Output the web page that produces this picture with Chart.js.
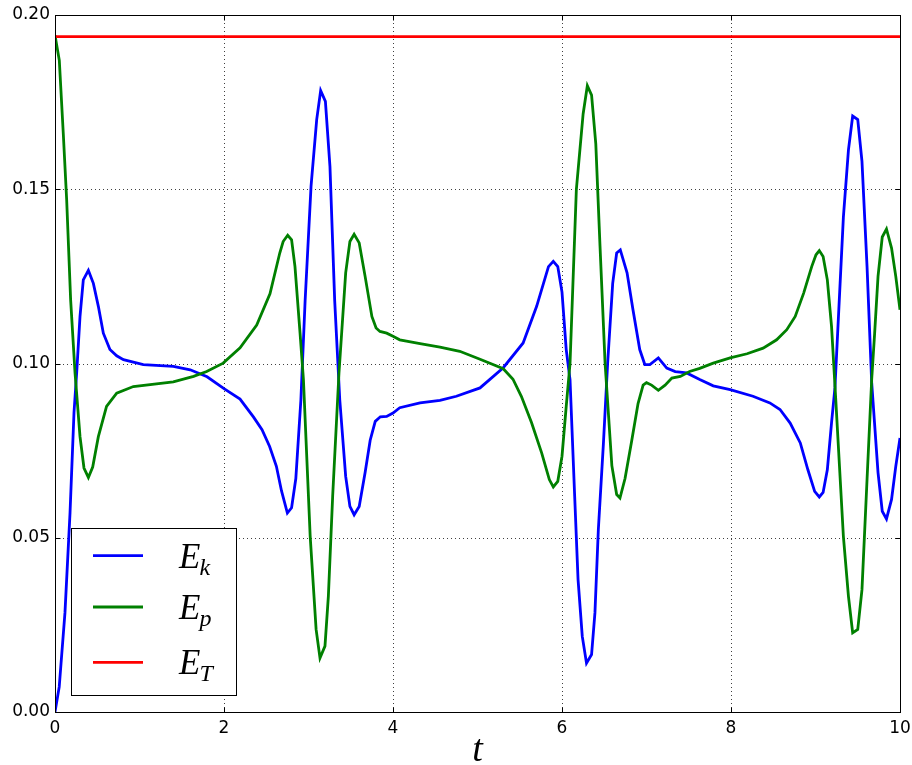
<!DOCTYPE html>
<html><head><meta charset="utf-8">
<script src="https://cdn.jsdelivr.net/npm/chart.js@4.4.0/dist/chart.umd.min.js"></script>
<style>html,body{margin:0;padding:0;background:#fff;}canvas{display:block;}</style>
</head><body>
<canvas id="c" width="912" height="765"></canvas>
<script>
// time samples and values for E_k (kinetic energy)
const tK = [0,0.05,0.118,0.178,0.225,0.257,0.296,0.335,0.395,0.454,0.513,0.572,0.65,0.73,0.81,1.045,1.4,1.6,1.8,2.0,2.19,2.35,2.45,2.54,2.62,2.68,2.75,2.80,2.85,2.91,2.96,3.03,3.097,3.144,3.20,3.254,3.31,3.37,3.44,3.49,3.54,3.60,3.67,3.73,3.79,3.85,3.925,4.0,4.08,4.32,4.556,4.75,5.03,5.305,5.54,5.70,5.84,5.897,5.95,6.0,6.05,6.095,6.15,6.19,6.24,6.29,6.35,6.39,6.43,6.49,6.54,6.60,6.647,6.69,6.77,6.84,6.92,6.98,7.04,7.14,7.24,7.34,7.475,7.63,7.79,7.99,8.26,8.46,8.58,8.70,8.82,8.91,8.99,9.045,9.09,9.14,9.19,9.23,9.33,9.39,9.44,9.50,9.55,9.61,9.665,9.74,9.79,9.84,9.90,9.95,10.0];
const eK = [0,0.0072,0.0285,0.0572,0.086,0.0975,0.1135,0.124,0.1267,0.123,0.1164,0.1087,0.104,0.1022,0.1011,0.0997,0.0992,0.0982,0.0962,0.0928,0.0898,0.0846,0.0810,0.0762,0.0705,0.0635,0.0571,0.0586,0.0670,0.0896,0.118,0.1508,0.170,0.1783,0.1752,0.1565,0.118,0.0896,0.0676,0.059,0.0566,0.059,0.0687,0.078,0.0834,0.0847,0.0848,0.0858,0.0873,0.0887,0.0894,0.0906,0.0930,0.0988,0.1059,0.1164,0.1278,0.1293,0.1278,0.1205,0.104,0.0954,0.0619,0.038,0.0217,0.0140,0.0165,0.0285,0.0523,0.077,0.100,0.123,0.1317,0.1326,0.126,0.1154,0.104,0.0997,0.0997,0.1016,0.0987,0.0977,0.0973,0.0954,0.0936,0.0925,0.0906,0.0887,0.0868,0.0829,0.0772,0.0695,0.0633,0.0617,0.063,0.0695,0.083,0.093,0.142,0.1613,0.171,0.170,0.158,0.1278,0.0945,0.0687,0.0576,0.0554,0.061,0.0705,0.0786];

// time samples and values for E_p (potential energy)
const tP = [0,0.051,0.098,0.138,0.185,0.237,0.296,0.343,0.395,0.446,0.513,0.61,0.73,0.927,1.4,1.64,1.795,1.99,2.19,2.387,2.544,2.66,2.70,2.754,2.80,2.84,2.90,2.94,3.02,3.09,3.136,3.195,3.235,3.286,3.36,3.44,3.49,3.54,3.60,3.67,3.75,3.80,3.846,3.925,4.0,4.08,4.32,4.556,4.79,5.03,5.305,5.42,5.52,5.64,5.76,5.85,5.897,5.95,6.0,6.05,6.095,6.17,6.25,6.30,6.35,6.40,6.45,6.51,6.59,6.647,6.686,6.746,6.825,6.90,6.96,7.0,7.06,7.14,7.22,7.30,7.40,7.51,7.63,7.79,7.99,8.19,8.38,8.54,8.66,8.76,8.86,8.955,9.006,9.045,9.09,9.14,9.19,9.24,9.33,9.39,9.44,9.50,9.55,9.61,9.665,9.70,9.74,9.79,9.84,9.90,9.95,10.0];
const eP = [0.1942,0.187,0.166,0.147,0.1183,0.0973,0.079,0.070,0.0673,0.0703,0.079,0.0877,0.0915,0.0934,0.0947,0.0963,0.0977,0.1001,0.1045,0.111,0.120,0.1317,0.135,0.1368,0.1355,0.1278,0.1087,0.0954,0.0504,0.0237,0.0155,0.0189,0.0332,0.0619,0.097,0.126,0.135,0.1371,0.1346,0.125,0.1135,0.1102,0.1092,0.1087,0.1078,0.1068,0.1057,0.1047,0.1035,0.1012,0.0985,0.0955,0.0905,0.083,0.0743,0.0667,0.0646,0.0662,0.0734,0.0877,0.100,0.150,0.1716,0.1797,0.177,0.163,0.1336,0.100,0.0707,0.0624,0.0614,0.067,0.0778,0.0885,0.0938,0.0945,0.0938,0.0923,0.0938,0.0958,0.0963,0.0977,0.0986,0.1001,0.1016,0.1028,0.1044,0.1068,0.1097,0.1135,0.1202,0.1278,0.1312,0.1324,0.1307,0.124,0.1106,0.0896,0.0504,0.0332,0.0227,0.0237,0.0351,0.0667,0.0954,0.1087,0.125,0.1363,0.1386,0.1331,0.125,0.1154];

// total energy E_T
const tT = [0, 10];
const eT = [0.1938, 0.1938];

const xTicks = [0, 2, 4, 6, 8, 10];
const yTicks = [0, 0.05, 0.10, 0.15, 0.20];
const seriesNames = ['E_k', 'E_p', 'E_T'];
const seriesColors = ['#0000ff', '#008000', '#ff0000'];
const xTitle = 't';

const toXY = (ts, vs) => ts.map((t, i) => ({x: t, y: vs[i]}));

const frame = {
  id: 'frame',
  beforeDatasetsDraw(chart) {
    const {ctx, chartArea: a, scales: {x, y}} = chart;
    ctx.save();
    ctx.strokeStyle = 'rgba(0,0,0,0.75)';
    ctx.lineWidth = 1;
    ctx.setLineDash([1, 3]);
    xTicks.forEach(v => {
      const px = Math.round(x.getPixelForValue(v)) + 0.5;
      ctx.beginPath(); ctx.moveTo(px, a.top); ctx.lineTo(px, a.bottom); ctx.stroke();
    });
    yTicks.forEach(v => {
      const py = Math.round(y.getPixelForValue(v)) + 0.5;
      ctx.beginPath(); ctx.moveTo(a.left, py); ctx.lineTo(a.right, py); ctx.stroke();
    });
    ctx.restore();
  },
  afterDatasetsDraw(chart) {
    const {ctx, chartArea: a, scales: {x, y}} = chart;
    ctx.save();
    ctx.strokeStyle = '#000';
    ctx.lineWidth = 1;
    ctx.setLineDash([]);
    const L = Math.round(a.left) + 0.5, R = Math.round(a.right) + 0.5;
    const T = Math.round(a.top) + 0.5, B = Math.round(a.bottom) + 0.5;
    ctx.strokeRect(L, T, R - L, B - T);
    const tl = 5;
    xTicks.forEach(v => {
      const px = Math.round(x.getPixelForValue(v)) + 0.5;
      ctx.beginPath(); ctx.moveTo(px, B); ctx.lineTo(px, B - tl); ctx.moveTo(px, T); ctx.lineTo(px, T + tl); ctx.stroke();
    });
    yTicks.forEach(v => {
      const py = Math.round(y.getPixelForValue(v)) + 0.5;
      ctx.beginPath(); ctx.moveTo(L, py); ctx.lineTo(L + tl, py); ctx.moveTo(R, py); ctx.lineTo(R - tl, py); ctx.stroke();
    });
    // legend
    const bx = 71.5, by = 528.5, bw = 165, bh = 167;
    ctx.fillStyle = '#fff';
    ctx.fillRect(bx, by, bw, bh);
    ctx.strokeRect(bx, by, bw, bh);
    const rows = [555.7, 607, 662.3];
    chart.data.datasets.forEach((ds, i) => {
      const ly = rows[i];
      ctx.strokeStyle = ds.borderColor;
      ctx.lineWidth = 2.8;
      ctx.beginPath(); ctx.moveTo(93, ly); ctx.lineTo(143, ly); ctx.stroke();
      const [base, sub] = seriesNames[i].split('_');
      ctx.fillStyle = '#000';
      ctx.textBaseline = 'alphabetic';
      ctx.textAlign = 'left';
      ctx.font = 'italic 35px "Liberation Serif"';
      ctx.fillText(base, 179, ly + 12);
      const w = ctx.measureText(base).width;
      ctx.font = 'italic 24px "Liberation Serif"';
      ctx.fillText(sub, 179 + w - 1, ly + 19);
    });
    ctx.restore();
  }
};

const font = {family: '"DejaVu Sans"', size: 17};

new Chart(document.getElementById('c'), {
  type: 'line',
  data: {
    datasets: [
      {label: seriesNames[0], data: toXY(tK, eK), borderColor: seriesColors[0], borderWidth: 2.8, pointRadius: 0, tension: 0, fill: false, order: 3},
      {label: seriesNames[1], data: toXY(tP, eP), borderColor: seriesColors[1], borderWidth: 2.8, pointRadius: 0, tension: 0, fill: false, order: 2},
      {label: seriesNames[2], data: toXY(tT, eT), borderColor: seriesColors[2], borderWidth: 2.8, pointRadius: 0, tension: 0, fill: false, order: 1}
    ]
  },
  options: {
    responsive: false,
    animation: false,
    devicePixelRatio: 1,
    layout: {padding: {left: 0, right: 12, top: 15, bottom: 0}},
    plugins: {legend: {display: false}, tooltip: {enabled: false}},
    scales: {
      x: {
        type: 'linear', min: 0, max: 10,
        afterBuildTicks: s => { s.ticks = xTicks.map(v => ({value: v})); },
        ticks: {font, color: '#000', padding: 6, maxRotation: 0, autoSkip: false, callback: v => String(v)},
        grid: {display: false, drawTicks: false},
        border: {display: false},
        title: {display: true, text: xTitle, color: '#000', font: {family: '"Liberation Serif"', style: 'italic', size: 38, lineHeight: 1}, padding: {top: 0, bottom: -5}},
        afterFit: s => { s.height = 53; s.paddingLeft = 0; s.paddingRight = 0; }
      },
      y: {
        type: 'linear', min: 0, max: 0.2,
        afterBuildTicks: s => { s.ticks = yTicks.map(v => ({value: v})); },
        ticks: {font, color: '#000', padding: 5, autoSkip: false, callback: v => Number(v).toFixed(2)},
        grid: {display: false, drawTicks: false},
        border: {display: false},
        afterFit: s => { s.width = 55; s.paddingTop = 0; s.paddingBottom = 0; }
      }
    }
  },
  plugins: [frame]
});
</script>
</body></html>
